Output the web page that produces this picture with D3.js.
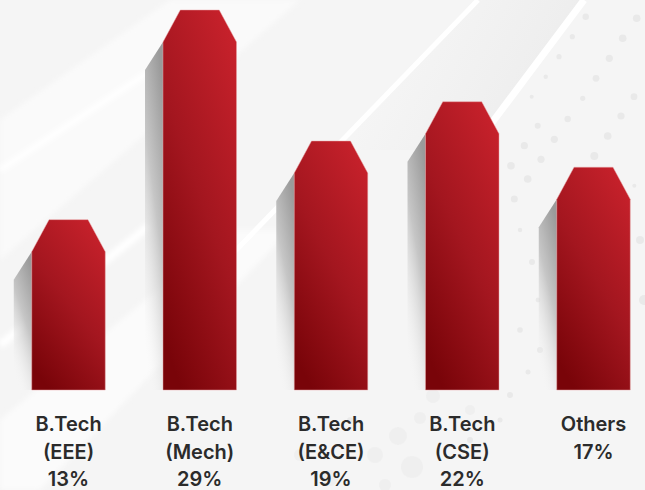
<!DOCTYPE html>
<html>
<head>
<meta charset="utf-8">
<script src="https://cdn.jsdelivr.net/npm/d3@7"></script>
<style>
  html, body { margin: 0; padding: 0; background: #f5f5f5; }
  svg { display: block; }
</style>
</head>
<body>
<svg id="chart" width="645" height="490"></svg>
<script>
// ---- data ----
const categories = ["B.Tech (EEE)", "B.Tech (Mech)", "B.Tech (E&CE)", "B.Tech (CSE)", "Others"];
const labelLines = [["B.Tech", "(EEE)"], ["B.Tech", "(Mech)"], ["B.Tech", "(E&CE)"], ["B.Tech", "(CSE)"], ["Others"]];
const values = [13, 29, 19, 22, 17];
const valueLabels = ["13%", "29%", "19%", "22%", "17%"];

// ---- layout ----
const W = 645, H = 490;
const svg = d3.select("#chart");
const defs = svg.append("defs");

const x = d3.scaleBand().domain(categories).range([31.75, 630.25]).paddingInner(0.44).paddingOuter(0);
const y = d3.scaleLinear().domain([0, 29]).range([390, 10]);

// gradients
const red = defs.append("linearGradient").attr("id", "redGrad")
  .attr("x1", 0.8).attr("y1", 0).attr("x2", 0.25).attr("y2", 1);
red.append("stop").attr("offset", 0).attr("stop-color", "#c6212b");
red.append("stop").attr("offset", 0.5).attr("stop-color", "#a3161f");
red.append("stop").attr("offset", 1).attr("stop-color", "#790409");

const sh = defs.append("linearGradient").attr("id", "shadowGrad")
  .attr("x1", 0.7).attr("y1", 0).attr("x2", 0.3).attr("y2", 1);
sh.append("stop").attr("offset", 0).attr("stop-color", "#9a9a9a").attr("stop-opacity", 1);
sh.append("stop").attr("offset", 0.45).attr("stop-color", "#c6c6c6").attr("stop-opacity", 1);
sh.append("stop").attr("offset", 1).attr("stop-color", "#f5f5f5").attr("stop-opacity", 0);

const bandGrad = defs.append("linearGradient").attr("id", "bandGrad")
  .attr("x1", 0).attr("y1", 0.3).attr("x2", 1).attr("y2", 0.6);
bandGrad.append("stop").attr("offset", 0).attr("stop-color", "#f9f9f9");
bandGrad.append("stop").attr("offset", 1).attr("stop-color", "#e9e9e9");

const blur = defs.append("filter").attr("id", "soft").attr("x", -0.2).attr("y", -0.2).attr("width", 1.4).attr("height", 1.4);
blur.append("feGaussianBlur").attr("stdDeviation", 2.5);

// ---- background decoration ----
const bg = svg.append("g");
bg.append("rect").attr("width", W).attr("height", H).attr("fill", "#f5f5f5");
bg.append("path").attr("d", "M478,0 L582,0 L470,150 L330,150 Z").attr("fill", "url(#bandGrad)").attr("opacity", 0.8);
bg.append("path").attr("d", "M0,120 L170,0 L300,0 L0,260 Z").attr("fill", "#fafafa").attr("filter", "url(#soft)");
bg.append("path").attr("d", "M0,420 L230,230 L290,230 L40,490 L0,490 Z").attr("fill", "#fbfbfb").attr("filter", "url(#soft)");
bg.append("line").attr("x1", 478).attr("y1", 0).attr("x2", 215).attr("y2", 272)
  .attr("stroke", "#ffffff").attr("stroke-width", 5);
bg.append("line").attr("x1", 584).attr("y1", 0).attr("x2", 470).attr("y2", 152)
  .attr("stroke", "#ffffff").attr("stroke-width", 7);
bg.append("line").attr("x1", 0).attr("y1", 170).attr("x2", 190).attr("y2", 45)
  .attr("stroke", "#ffffff").attr("stroke-width", 6).attr("filter", "url(#soft)");
bg.append("line").attr("x1", 0).attr("y1", 345).attr("x2", 150).attr("y2", 225)
  .attr("stroke", "#ffffff").attr("stroke-width", 8).attr("filter", "url(#soft)");

const dots = [
  [585.7,16.7,3.2],[636.7,18.3,3.8],[572.3,36.7,2.6],[622.7,38.3,3.8],[559,56.7,2.6],[609.3,58.3,3.6],
  [545.7,76.7,2.2],[596,78.3,3.4],[531.7,96.7,2],[582.7,98.3,2.6],[634,96.7,3.4],[567.7,119,3.2],
  [537.7,125.7,3],[621,116,3.6],[554.3,139.3,3.6],[607.7,136,3.8],[524.3,145.7,3.6],[541,159.3,3.6],
  [594.3,156,4],[511,165.7,3.8],[527.7,179,3.8],[634.3,185.7,2],[514.3,199,3.5],
  [520,230,2.2],[532,262,3],[538,300,2.4],[520,330,2.8],[540,350,3],[528,372,2.5],[510,395,3],
  [640,240,4],[644,300,5],[500,420,2.5],[470,440,3],[360,380,3],[350,420,2.8]
];
bg.selectAll("circle.dot").data(dots).join("circle").attr("class", "dot")
  .attr("cx", d => d[0]).attr("cy", d => d[1]).attr("r", d => d[2]).attr("fill", "#e9e9e9");
const bigDots = [[433,396,7],[420,418,6],[398,436,9],[375,455,8],[412,467,11],[452,480,7],[470,410,5],[385,485,6],[330,478,8],[300,455,6]];
bg.selectAll("circle.big").data(bigDots).join("circle").attr("class", "big")
  .attr("cx", d => d[0]).attr("cy", d => d[1]).attr("r", d => d[2]).attr("fill", "#ececec").attr("opacity", 0.7);

// ---- bars ----
const data = categories.map((c, i) => ({ c, v: values[i], lines: labelLines[i], pct: valueLabels[i] }));
const bw = x.bandwidth();
const chamX = bw * 0.235, chamY = 32;
const shOff = 18, shDrop = 28;

const bars = svg.append("g").selectAll("g").data(data).join("g");

bars.append("path")
  .attr("d", d => {
    const x0 = x(d.c), top = y(d.v), b = y(0);
    return `M${x0},${top + chamY} L${x0 - shOff},${top + chamY + shDrop} L${x0 - shOff},${b} L${x0},${b} Z`;
  })
  .attr("fill", "url(#shadowGrad)");

bars.append("path")
  .attr("d", d => {
    const x0 = x(d.c), x1 = x0 + bw, top = y(d.v), b = y(0);
    return `M${x0},${b} L${x0},${top + chamY} L${x0 + chamX},${top} L${x1 - chamX},${top} L${x1},${top + chamY} L${x1},${b} Z`;
  })
  .attr("fill", "url(#redGrad)")
  .attr("stroke", "#e7a2a5").attr("stroke-opacity", 0.6).attr("stroke-width", 0.8);

// ---- labels ----
const lab = svg.append("g").selectAll("text").data(data).join("text")
  .attr("x", d => x(d.c) + bw / 2)
  .attr("text-anchor", "middle")
  .attr("font-family", "Inter, 'Open Sans', sans-serif")
  .attr("font-weight", 600)
  .attr("font-size", 20)
  .attr("fill", "#2b2b2b");
lab.each(function (d) {
  const t = d3.select(this);
  const all = d.lines.concat([d.pct]);
  all.forEach((s, k) => {
    t.append("tspan").attr("x", x(d.c) + bw / 2).attr("y", 431 + k * 27.5).text(s);
  });
});
</script>
</body>
</html>
